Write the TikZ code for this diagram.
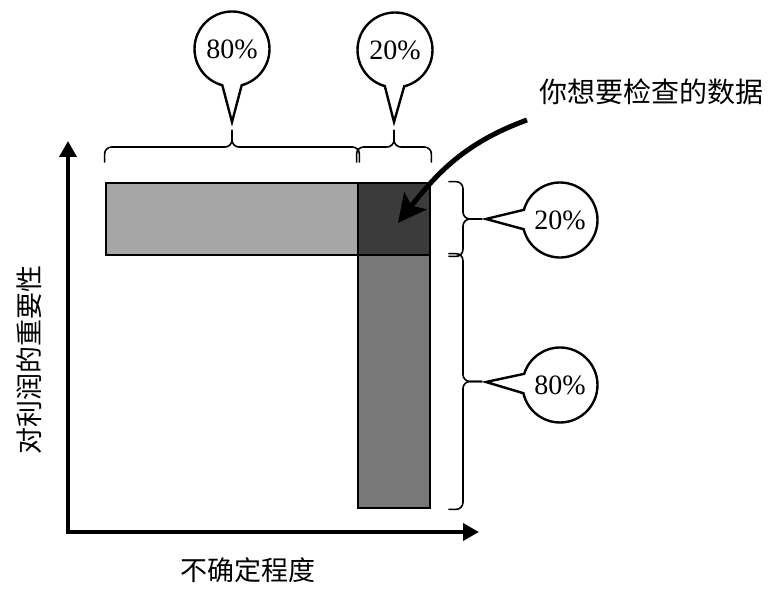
\documentclass[tikz,border=0pt]{standalone}
\usepackage{fontspec}
\setmainfont{Liberation Serif}
\newfontfamily\cjk{Noto Sans CJK SC}
\usetikzlibrary{shapes.callouts, arrows.meta}
\tikzstyle{bar}=[rectangle, draw, line width=2.8pt, inner sep=0pt]
\tikzstyle{bubble}=[ellipse callout, draw, fill=white, line width=2.4pt, inner sep=0pt,
    minimum width=75pt, minimum height=75pt, callout pointer arc=30, font=\fontsize{28}{30}\selectfont]
\tikzstyle{bracepath}=[line width=1.6pt, rounded corners=7pt]
\tikzstyle{axis}=[line width=3.6pt, -{Triangle[length=16pt, width=17pt]}]
\tikzstyle{label}=[font=\cjk\fontsize{27}{30}\selectfont, inner sep=0pt]

\begin{document}
\begin{tikzpicture}[x=1pt, y=1pt]
    \useasboundingbox (0,0) rectangle (780,603);
    % axes
    \coordinate (o) at (68,71);
    \coordinate (ytop) at (68,462);
    \coordinate (xend) at (479,71);
    \draw[axis] (o)--(ytop);
    \draw[axis] ([xshift=-1.8pt]o)--(xend);
    \node[label] (ylab) at (29,243) {\rotatebox{90}{对利润的重要性}};
    \node[label] (xlab) at (248,33) {不确定程度};
    % bars
    \node[bar, fill=black!35, minimum width=252pt, minimum height=72pt] (hbar) at (232,384) {};
    \node[bar, fill=black!53, minimum width=72pt, minimum height=253pt] (vbar) at (394,221.5) {};
    \node[bar, fill=black!77, minimum width=72pt, minimum height=72pt] (dark) at (394,384) {};
    % top braces
    \coordinate (t1) at (232,473);
    \coordinate (t2) at (394,473);
    \draw[bracepath] (hbar.north west) ++(0,19) |- (232,456) -- (t1);
    \draw[bracepath] (hbar.north east) ++(0,19) |- (232,456) -- (t1);
    \draw[bracepath] (dark.north west) ++(0,19) |- (394,456) -- (t2);
    \draw[bracepath] (dark.north east) ++(0,19) |- (394,456) -- (t2);
    % right braces
    \coordinate (r1) at (482,384);
    \coordinate (r2) at (482,221.5);
    \draw[bracepath] (dark.north east) ++(17,0) -| (463,384) -- (r1);
    \draw[bracepath] (dark.south east) ++(17,0) -| (463,384) -- (r1);
    \draw[bracepath] (vbar.north east) ++(17,0) -| (463,221.5) -- (r2);
    \draw[bracepath] (vbar.south east) ++(17,0) -| (463,221.5) -- (r2);
    % callouts
    \node[bubble, callout absolute pointer={(232,481)}] (c1) at (232,554) {80\%};
    \node[bubble, callout absolute pointer={(394,481)}] (c2) at (395,553) {20\%};
    \node[bubble, callout absolute pointer={(486,384)}] (c3) at (560,383) {20\%};
    \node[bubble, callout absolute pointer={(486,221)}] (c4) at (560,218) {80\%};
    % note
    \node[label, font=\cjk\fontsize{28}{30}\selectfont] (note) at (651,511) {你想要检查的数据};
    \coordinate (nstart) at (527,483);
    \coordinate (ntip) at (398,380);
    \draw[line width=5pt, -{Stealth[length=28pt, width=28pt, inset=6pt]}]
        (nstart) to[out=200, in=52] (ntip);
\end{tikzpicture}
\end{document}
